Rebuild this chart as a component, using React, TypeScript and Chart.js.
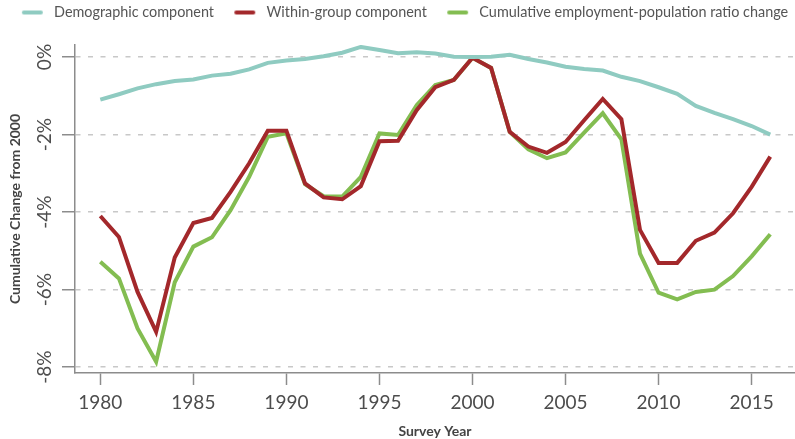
import React, { useEffect, useRef } from "react";
import { Chart, registerables } from "chart.js";

Chart.register(...registerables);

const years = [
  1980, 1981, 1982, 1983, 1984, 1985, 1986, 1987, 1988, 1989,
  1990, 1991, 1992, 1993, 1994, 1995, 1996, 1997, 1998, 1999,
  2000, 2001, 2002, 2003, 2004, 2005, 2006, 2007, 2008, 2009,
  2010, 2011, 2012, 2013, 2014, 2015, 2016,
];

const demographic = [
  -1.1, -0.96, -0.81, -0.7, -0.62, -0.58, -0.48, -0.43, -0.32, -0.15,
  -0.09, -0.05, 0.02, 0.11, 0.26, 0.18, 0.1, 0.12, 0.09, 0.01,
  0.0, 0.01, 0.06, -0.05, -0.14, -0.25, -0.31, -0.35, -0.51, -0.62,
  -0.78, -0.95, -1.26, -1.44, -1.6, -1.78, -2.0,
];

const withinGroup = [
  -4.1, -4.64, -6.06, -7.09, -5.17, -4.28, -4.15, -3.48, -2.74, -1.9,
  -1.9, -3.26, -3.62, -3.67, -3.33, -2.17, -2.16, -1.37, -0.78, -0.59,
  -0.02, -0.28, -1.93, -2.31, -2.47, -2.19, -1.63, -1.08, -1.6, -4.46,
  -5.31, -5.31, -4.74, -4.53, -4.03, -3.35, -2.57,
];

const cumulative = [
  -5.28, -5.71, -7.0, -7.86, -5.81, -4.89, -4.65, -3.95, -3.09, -2.06,
  -1.97, -3.28, -3.59, -3.6, -3.09, -1.97, -2.01, -1.24, -0.72, -0.59,
  -0.02, -0.28, -1.93, -2.38, -2.61, -2.46, -1.95, -1.45, -2.12, -5.07,
  -6.08, -6.25, -6.06, -6.0, -5.65, -5.14, -4.57,
];

const seriesNames = [
  "Demographic component",
  "Within-group component",
  "Cumulative employment-population ratio change",
];
const seriesColors = ["#8fcbc1", "#a3282b", "#83bd51"];

const xTicks = [1980, 1985, 1990, 1995, 2000, 2005, 2010, 2015];
const yTicks = [0, -2, -4, -6, -8];

const FONT = "Lato, 'Open Sans', 'DejaVu Sans', sans-serif";
const TEXT = "#4d4d4d";

function makeSwatch(color: string): HTMLCanvasElement {
  const c = document.createElement("canvas");
  c.width = 40;
  c.height = 6;
  const g = c.getContext("2d")!;
  g.strokeStyle = color;
  g.lineWidth = 4;
  g.lineCap = "round";
  g.beginPath();
  g.moveTo(17, 3);
  g.lineTo(34, 3);
  g.stroke();
  return c;
}

const legendTopPad = {
  id: "legendTopPad",
  beforeLayout(chart: any) {
    const lg = chart.legend;
    if (lg && !lg.__padded) {
      const orig = lg.fit.bind(lg);
      lg.fit = function () {
        orig();
        this.height = 45;
      };
      lg.__padded = true;
    }
  },
};

const rotatedYLabels = {
  id: "rotatedYLabels",
  afterDraw(chart: any) {
    const scale = chart.scales.y;
    const ctx = chart.ctx;
    ctx.save();
    ctx.font = `19px ${FONT}`;
    ctx.fillStyle = TEXT;
    ctx.textAlign = "center";
    ctx.textBaseline = "middle";
    for (const t of scale.ticks) {
      const py = scale.getPixelForValue(t.value);
      ctx.save();
      ctx.translate(45, py);
      ctx.rotate(-Math.PI / 2);
      ctx.fillText(`${t.value}%`, 0, 0);
      ctx.restore();
    }
    ctx.restore();
  },
};

export default function App() {
  const ref = useRef<HTMLCanvasElement | null>(null);

  useEffect(() => {
    if (!ref.current) return;
    const swatches = seriesColors.map(makeSwatch);
    const series = [demographic, withinGroup, cumulative];
    const chart = new Chart(ref.current, {
      type: "line",
      data: {
        datasets: series.map((vals, i) => ({
          label: seriesNames[i],
          data: years.map((yr, j) => ({ x: yr, y: vals[j] })),
          borderColor: seriesColors[i],
          backgroundColor: seriesColors[i],
          borderWidth: 4,
          pointRadius: 0,
          tension: 0,
          fill: false,
        })),
      },
      options: {
        animation: false,
        responsive: false,
        devicePixelRatio: 1,
        layout: { padding: 0 },
        plugins: {
          tooltip: { enabled: false },
          legend: {
            display: true,
            position: "top",
            labels: {
              usePointStyle: true,
              pointStyleWidth: 40,
              padding: 5.3,
              color: "#555555",
              font: { family: FONT, size: 14.4 },
              generateLabels: (c: any) => {
                const items = (Chart.defaults.plugins.legend.labels as any).generateLabels(c);
                items.forEach((it: any, i: number) => {
                  it.pointStyle = swatches[i];
                });
                return items;
              },
            },
          },
        },
        scales: {
          x: {
            type: "linear",
            min: 1978.64,
            max: 2017.33,
            afterBuildTicks: (s: any) => {
              s.ticks = xTicks.map((v) => ({ value: v }));
            },
            afterFit: (s: any) => {
              s.height = 66;
            },
            ticks: {
              color: TEXT,
              font: { family: FONT, size: 19 },
              padding: 6,
              maxRotation: 0,
              callback: (v: any) => String(v),
            },
            grid: {
              drawOnChartArea: false,
              drawTicks: true,
              tickLength: 12,
              tickColor: "#8c8c8c",
              tickWidth: 1.5,
            },
            border: { display: true, color: "#8c8c8c", width: 1.5 },
            title: {
              display: true,
              text: "Survey Year",
              color: "#444444",
              font: { family: FONT, size: 14, weight: "bold" },
              padding: { top: 0, bottom: -1 },
            },
          },
          y: {
            type: "linear",
            min: -8.15,
            max: 0.31,
            afterBuildTicks: (s: any) => {
              s.ticks = yTicks.map((v) => ({ value: v }));
            },
            afterFit: (s: any) => {
              s.width = 75;
            },
            ticks: { display: false },
            grid: {
              drawOnChartArea: true,
              drawTicks: true,
              tickLength: 13,
              color: "#c8c8c8",
              lineWidth: 1.5,
              tickColor: "#8c8c8c",
              tickWidth: 1.5,
            },
            border: { display: true, color: "#8c8c8c", width: 1.5, dash: [5, 7.5] },
            title: {
              display: true,
              text: "Cumulative Change from 2000",
              color: "#444444",
              font: { family: FONT, size: 14, weight: "bold" },
              padding: { top: 7, bottom: 0 },
            },
          },
        },
      },
      plugins: [legendTopPad, rotatedYLabels],
    } as any);
    return () => chart.destroy();
  }, []);

  return (
    <div style={{ position: "absolute", left: 0, top: 0, width: 795, height: 439 }}>
      <canvas ref={ref} width={795} height={439} style={{ display: "block" }} />
    </div>
  );
}
